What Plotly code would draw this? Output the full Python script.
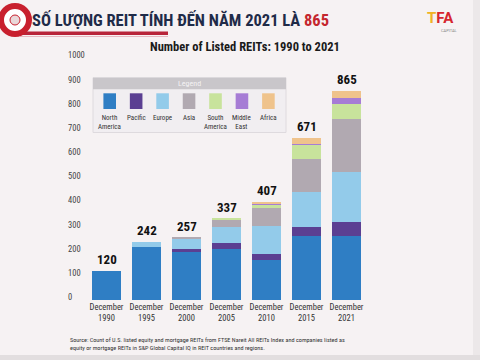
import plotly.graph_objects as go

# ---------------- data ----------------
years = ["1990", "1995", "2000", "2005", "2010", "2015", "2021"]
x_labels = ["December<br>" + y for y in years]
regions = ["North America", "Pacific", "Europe", "Asia", "South America", "Middle East", "Africa"]
legend_labels = ["North<br>America", "Pacific", "Europe", "Asia", "South<br>America", "Middle<br>East", "Africa"]
north_america = [120, 221, 199, 210, 165, 265, 265]
pacific = [0, 0, 11, 25, 26, 39, 59]
europe = [0, 21, 43, 66, 116, 145, 207]
asia = [0, 0, 4, 30, 75, 135, 220]
south_america = [0, 0, 0, 6, 12, 56, 59]
middle_east = [0, 0, 0, 0, 3, 4, 25]
africa = [0, 0, 0, 0, 10, 27, 30]
totals = [120, 242, 257, 337, 407, 671, 865]
y_ticks = list(range(0, 1001, 100))

series = [north_america, pacific, europe, asia, south_america, middle_east, africa]
colors = ["#2f7ec4", "#5b3f92", "#93cbea", "#b1a9b1", "#c8e39c", "#a67cd5", "#efc38c"]

W, H = 480, 360
def px(x): return x / W
def py(y): return 1 - y / H

NARROW = "Liberation Sans Narrow, Arial Narrow, Roboto Condensed, Arial, sans-serif"
BG = "#f6f2f3"

fig = go.Figure()
for name, vals, col in zip(regions, series, colors):
    fig.add_trace(go.Bar(x=x_labels, y=vals, name=name, marker_color=col,
                         marker_line_width=0, showlegend=False, hoverinfo="skip"))

# total labels
for xl, t in zip(x_labels, totals):
    fig.add_annotation(x=xl, y=t, text="<b>%d</b>" % t, showarrow=False,
                       yanchor="bottom", yshift=2, xref="x", yref="y",
                       font=dict(family=NARROW, size=13, color="#111"))

shapes = []
ann = []

# slide decorations: logo circle, red underline
shapes.append(dict(type="rect", xref="paper", yref="paper",
                   x0=px(20), x1=px(168), y0=py(35), y1=py(31.5),
                   fillcolor="#b8253a", line_width=0))
shapes.append(dict(type="rect", xref="paper", yref="paper",
                   x0=px(20), x1=px(168), y0=py(37), y1=py(36),
                   fillcolor="#e6b8c0", line_width=0))
shapes.append(dict(type="circle", xref="paper", yref="paper",
                   x0=px(1), x1=px(29), y0=py(34), y1=py(6),
                   fillcolor="#ffffff", line=dict(color="#c8202e", width=6)))
shapes.append(dict(type="circle", xref="paper", yref="paper",
                   x0=px(10), x1=px(20), y0=py(25), y1=py(15),
                   fillcolor="#e9d8d9", line=dict(color="#c8202e", width=1)))
# right edge & bottom strip of the slide
shapes.append(dict(type="rect", xref="paper", yref="paper",
                   x0=px(473), x1=px(480), y0=0, y1=1,
                   fillcolor="#ece8e9", line_width=0))
shapes.append(dict(type="rect", xref="paper", yref="paper",
                   x0=0, x1=1, y0=0, y1=py(355),
                   fillcolor="#e2dedf", line_width=0))

# main slide title
ann.append(dict(x=px(30), y=py(20), xref="paper", yref="paper", xanchor="left", yanchor="middle",
                showarrow=False,
                text="<b>SỐ LƯỢNG REIT TÍNH ĐẾN NĂM 2021 LÀ <span style='color:#c4262e'>865</span></b>",
                font=dict(family=NARROW, size=16.5, color="#1f2b48")))
# TFA logo text
ann.append(dict(x=px(440), y=py(18), xref="paper", yref="paper", xanchor="center", yanchor="middle",
                showarrow=False,
                text="<b><span style='color:#f0b323'>T</span><span style='color:#d6262e'>FA</span></b>",
                font=dict(family="Roboto, Arial, sans-serif", size=15)))
ann.append(dict(x=px(449), y=py(30), xref="paper", yref="paper", xanchor="center", yanchor="middle",
                showarrow=False, text="CAPITAL",
                font=dict(family="Roboto, Arial, sans-serif", size=4, color="#888")))

# chart title
ann.append(dict(x=px(245), y=py(46), xref="paper", yref="paper", xanchor="center", yanchor="middle",
                showarrow=False, text="<b>Number of Listed REITs: 1990 to 2021</b>",
                font=dict(family=NARROW, size=12.5, color="#1a1a1a")))

# custom legend box
lx0, lx1 = 93, 286
shapes.append(dict(type="rect", xref="paper", yref="paper",
                   x0=px(lx0), x1=px(lx1), y0=py(132.5), y1=py(77.7),
                   fillcolor="#f1eef1", line=dict(color="#dedade", width=1)))
shapes.append(dict(type="rect", xref="paper", yref="paper",
                   x0=px(lx0), x1=px(lx1), y0=py(89.3), y1=py(77.7),
                   fillcolor="#c9c6ca", line_width=0))
ann.append(dict(x=px((lx0 + lx1) / 2), y=py(83.5), xref="paper", yref="paper",
                xanchor="center", yanchor="middle", showarrow=False, text="Legend",
                font=dict(family=NARROW, size=8, color="#f4f2f4")))
for i, (lab, col) in enumerate(zip(legend_labels, colors)):
    cx = 109.7 + i * 26.45
    shapes.append(dict(type="rect", xref="paper", yref="paper",
                       x0=px(cx - 6.3), x1=px(cx + 6.3), y0=py(109), y1=py(93.3),
                       fillcolor=col, line_width=0))
    ann.append(dict(x=px(cx), y=py(112), xref="paper", yref="paper",
                    xanchor="center", yanchor="top", showarrow=False, text=lab,
                    font=dict(family=NARROW, size=7, color="#333")))

# source note
ann.append(dict(x=px(68), y=py(343.5), xref="paper", yref="paper", xanchor="left", yanchor="middle",
                showarrow=False, align="left",
                text="Source: Count of U.S. listed equity and mortgage REITs from FTSE Nareit All REITs Index and companies listed as"
                     "<br>equity or mortgage REITs in S&P Global Capital IQ in REIT countries and regions.",
                font=dict(family=NARROW, size=6.2, color="#333")))

fig.update_layout(
    width=W, height=H, autosize=False,
    margin=dict(l=0, r=0, t=0, b=0, autoexpand=False),
    paper_bgcolor=BG, plot_bgcolor=BG,
    barmode="stack", bargap=0.29,
    shapes=shapes,
    xaxis=dict(domain=[px(86.5), px(366.5)], range=[-0.5, 6.5], type="category",
               automargin=False,
               showgrid=False, zeroline=False, showline=False, ticks="",
               tickfont=dict(family=NARROW, size=8.5, color="#333")),
    yaxis=dict(domain=[py(300), py(58.4)], range=[0, 1000], tickvals=y_ticks,
               anchor="free", position=px(67), side="right", automargin=False,
               showgrid=False, zeroline=False, showline=False, ticks="",
               ticklabelshift=-3,
               tickfont=dict(family=NARROW, size=8.5, color="#444")),
    font=dict(family=NARROW),
)
for a in ann:
    fig.add_annotation(**a)

fig.write_html("out.html", config={"displayModeBar": False},
               post_script="document.body.style.margin='0';document.body.style.overflow='hidden';")
